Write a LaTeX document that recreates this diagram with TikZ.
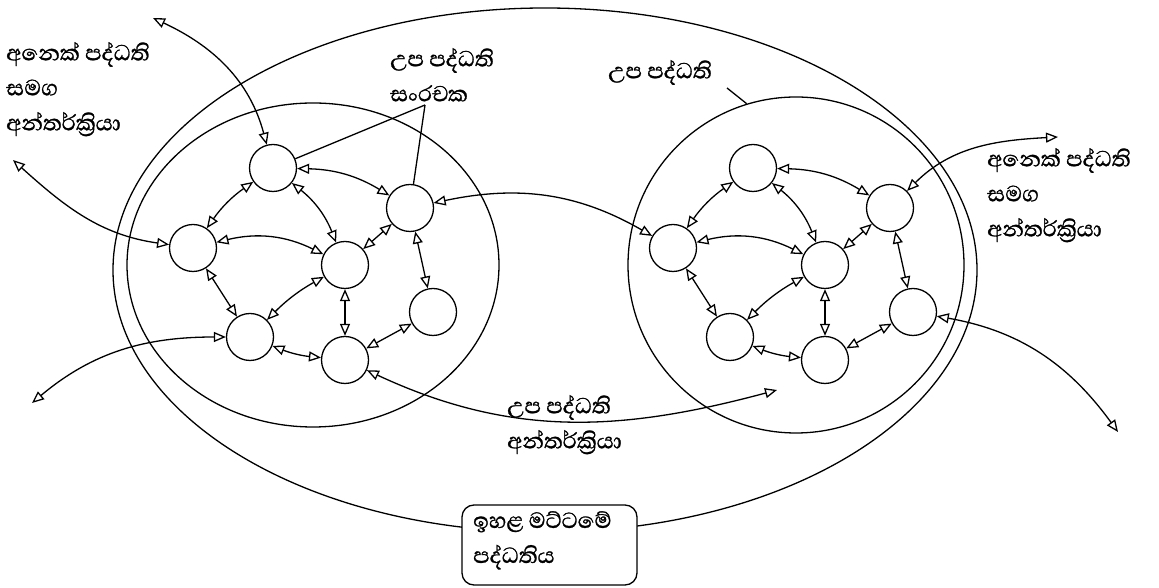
\documentclass[tikz,border=0pt]{standalone}
\usepackage{fontspec}
\newfontfamily\sinhfont[Script=Sinhala,FakeBold=1]{Abhaya Libre}
\usetikzlibrary{arrows.meta,shapes.geometric}
\begin{document}
\begin{tikzpicture}[x=1pt,y=1pt,
  lw/.style={line width=1.3pt},
  bi/.style={lw,{Triangle[open,length=12pt,width=10pt]}-{Triangle[open,length=12pt,width=10pt]}},
  sn/.style={circle,draw,lw,minimum size=47pt,inner sep=0pt},
  sub/.style={ellipse,draw,lw,inner sep=0pt},
  lbl/.style={font=\sinhfont\fontsize{28}{35}\selectfont,align=left,inner sep=0pt,anchor=north west}]
\useasboundingbox (0,0) rectangle (1159,588);
% systems
\node[sub,minimum width=864pt,minimum height=524pt] (outer) at (545,318) {};
\node[sub,minimum width=372pt,minimum height=324pt] (lsub) at (313,323) {};
\node[sub,minimum width=336pt,minimum height=336pt] (rsub) at (796,323) {};
% subsystem components
\foreach \p/\dx in {l/0,r/480}{
\begin{scope}[xshift=\dx pt]
  \node[sn] (\p A) at (273,420) {};
  \node[sn] (\p B) at (193,340) {};
  \node[sn] (\p C) at (345,323) {};
  \node[sn] (\p D) at (410,380) {};
  \node[sn] (\p E) at (250,251) {};
  \node[sn] (\p F) at (345,228) {};
  \node[sn] (\p G) at (433,276) {};
  \draw[bi] (\p A) to[bend right=10] (\p B);
  \draw[bi] (\p A) to[bend left=15] (\p D);
  \draw[bi] (\p A) to[bend left=15] (\p C);
  \draw[bi] (\p B) to[bend left=20] (\p C);
  \draw[bi] (\p B) -- (\p E);
  \draw[bi] (\p E) to[bend left=8] (\p C);
  \draw[bi] (\p D) -- (\p C);
  \draw[bi] (\p D) -- (\p G);
  \draw[bi] (\p C) -- (\p F);
  \draw[bi] (\p E) to[bend right=8] (\p F);
  \draw[bi] (\p F) -- (\p G);
\end{scope}}
% interactions
\coordinate (lAend) at (153,570);
\coordinate (lBend) at (13,428);
\coordinate (lEend) at (32,185);
\coordinate (rDend) at (1058,451);
\coordinate (rGend) at (1118,156);
\coordinate (Ftip) at (777,198);
\draw[bi] (lA) to[out=105,in=-25] (lAend);
\draw[bi] (lB) to[out=172,in=-42] (lBend);
\draw[bi] (lE) to[out=180,in=40] (lEend);
\draw[bi] (lD) to[out=12,in=150] (rB);
\draw[bi] (lF) to[out=-25,in=195] (Ftip);
\draw[bi] (rD) to[out=45,in=183] (rDend);
\draw[bi] (rG) to[out=-10,in=126] (rGend);
% labels
\coordinate (P) at (425,483);
\draw[lw] (P) -- (lA);
\draw[lw] (P) -- (lD);
\coordinate (rl) at (727,500);
\draw[lw] (rl) -- (rsub.107);
\node[lbl] (t1) at (6,546) {අනෙක් පද්ධති\\සමග\\අන්තර්ක්^^^^200dරියා};
\node[lbl] (t2) at (987,440) {අනෙක් පද්ධති\\සමග\\අන්තර්ක්^^^^200dරියා};
\node[lbl] (t3) at (390,540) {උප පද්ධති\\සංරචක};
\node[lbl] (t4) at (608,528) {උප පද්ධති};
\node[lbl] (t5) at (507,193) {උප පද්ධති\\අන්තර්ක්^^^^200dරියා};
\node[draw,lw,fill=white,rounded corners=12pt,minimum width=175pt,minimum height=80pt,text width=155pt,align=left,inner xsep=10pt] (top) at (549.5,43) {};
\node[lbl] (toptext) at (473,77) {ඉහළ මට්ටමේ\\පද්ධතිය};
\end{tikzpicture}
\end{document}
